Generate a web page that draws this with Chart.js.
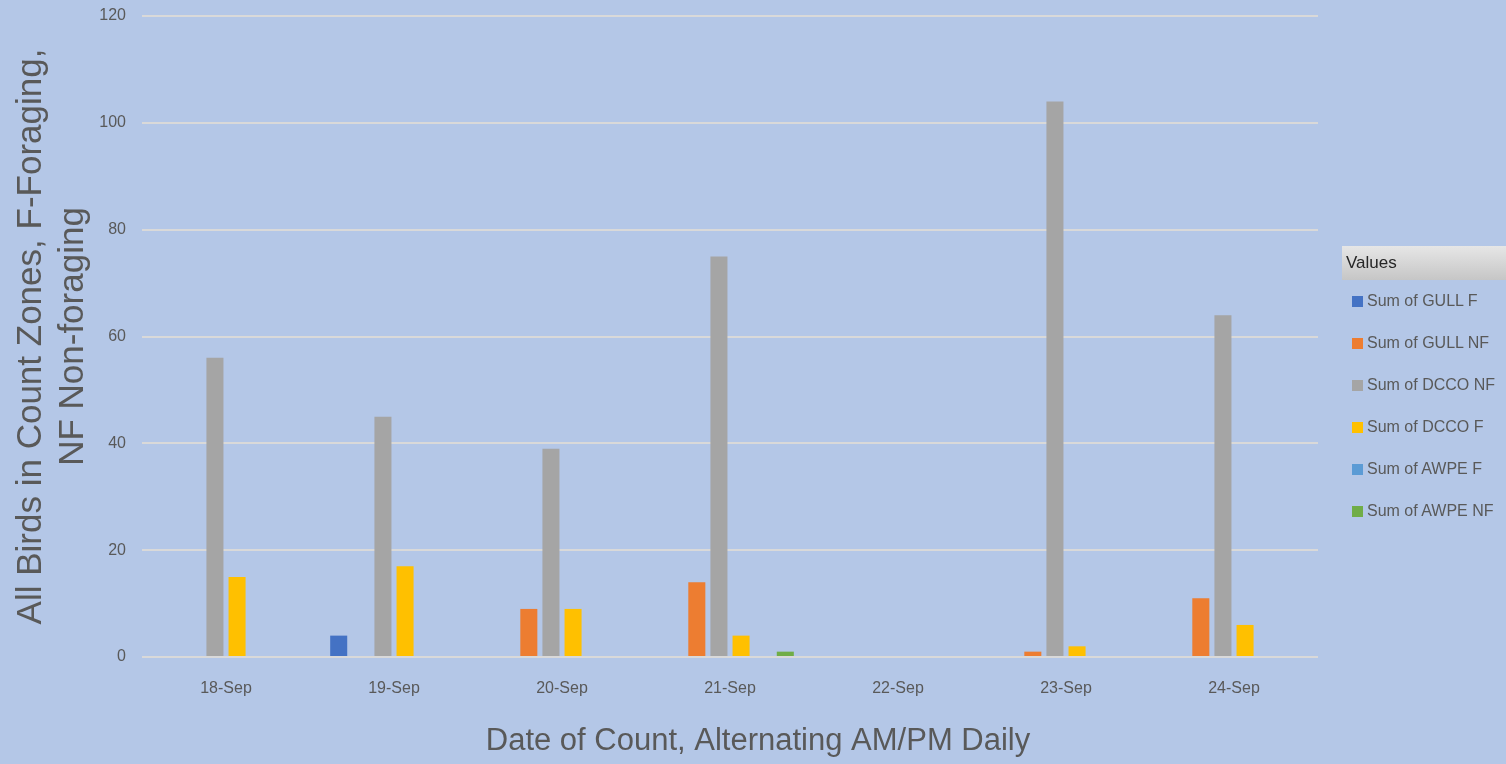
<!DOCTYPE html>
<html lang="en">
<head>
<meta charset="UTF-8" />
<title>Birds in Count Zones</title>
<script src="https://cdn.jsdelivr.net/npm/chart.js"></script>
<style>
  html, body { margin: 0; padding: 0; background: #b4c7e7; }
  #wrap { position: relative; width: 1506px; height: 764px; }
  #legend {
    position: absolute; left: 1342px; top: 246px; width: 164px;
    font-family: "Liberation Sans", Arial, sans-serif; color: #595959; font-size: 16px;
  }
  #legend .head {
    height: 34px; line-height: 34px; padding-left: 4px; color: #262626; font-size: 17px;
    background: linear-gradient(to bottom, #e6e6e6, #c6c6c6);
  }
  #legend .item { height: 42px; line-height: 42px; padding-left: 10px; white-space: nowrap; }
  #legend .sw { display: inline-block; width: 11px; height: 11px; margin-right: 4px; vertical-align: -1px; }
</style>
</head>
<body>
<div id="wrap">
  <canvas id="chart" width="1506" height="764"></canvas>
  <div id="legend"><div class="head">Values</div></div>
</div>
<script>
  // dates of count
  const categories = ["18-Sep", "19-Sep", "20-Sep", "21-Sep", "22-Sep", "23-Sep", "24-Sep"];

  // series, in legend order
  const gullF  = [0, 4, 0, 0, 0, 0, 0];
  const gullNF = [0, 0, 9, 14, 0, 1, 11];
  const dccoNF = [56, 45, 39, 75, 0, 104, 64];
  const dccoF  = [15, 17, 9, 4, 0, 2, 6];
  const awpeF  = [0, 0, 0, 0, 0, 0, 0];
  const awpeNF = [0, 0, 0, 1, 0, 0, 0];

  const seriesNames = ["Sum of GULL F", "Sum of GULL NF", "Sum of DCCO NF", "Sum of DCCO F", "Sum of AWPE F", "Sum of AWPE NF"];
  const seriesData = [gullF, gullNF, dccoNF, dccoF, awpeF, awpeNF];
  const seriesColors = ["#4472c4", "#ed7d31", "#a5a5a5", "#ffc000", "#5b9bd5", "#70ad47"];

  const xTitle = "Date of Count, Alternating AM/PM Daily";
  const yTitle = ["All Birds in Count Zones, F-Foraging,", "NF Non-foraging"];

  const font = "'Liberation Sans', Arial, sans-serif";
  const textColor = "#595959";

  const datasets = seriesNames.map((name, i) => ({
    label: name,
    data: seriesData[i],
    backgroundColor: seriesColors[i],
    categoryPercentage: 0.79,
    barPercentage: 0.77
  }));

  // axis titles drawn by hand: the x title sits right of the plot centre
  const axisTitles = {
    id: "axisTitles",
    afterDraw(chart) {
      const ctx = chart.ctx;
      const area = chart.chartArea;
      ctx.save();
      ctx.fillStyle = textColor;
      ctx.textAlign = "center";
      ctx.textBaseline = "middle";
      ctx.font = `31px ${font}`;
      ctx.fillText(xTitle, 758, 741);

      ctx.font = `35px ${font}`;
      ctx.translate(31, (area.top + area.bottom) / 2);
      ctx.rotate(-Math.PI / 2);
      ctx.fillText(yTitle[0], 0, 0);
      ctx.fillText(yTitle[1], 0, 42);
      ctx.restore();
    }
  };

  new Chart(document.getElementById("chart"), {
    type: "bar",
    data: { labels: categories, datasets: datasets },
    plugins: [axisTitles],
    options: {
      responsive: false,
      animation: false,
      layout: { padding: { top: 16, right: 188, left: 0, bottom: 0 } },
      plugins: { legend: { display: false }, tooltip: { enabled: false } },
      scales: {
        x: {
          grid: { display: false },
          border: { display: false },
          ticks: { color: textColor, font: { family: font, size: 16 }, padding: 14 },
          afterFit: s => { s.height = 107; }
        },
        y: {
          min: 0, max: 120,
          ticks: { stepSize: 20, color: textColor, font: { family: font, size: 16 }, padding: 16 },
          grid: { color: "#d9d9d9", lineWidth: 2, drawTicks: false },
          border: { display: false },
          afterFit: s => { s.width = 142; s.paddingTop = 0; s.paddingBottom = 0; }
        }
      }
    }
  });

  // legend boxes from the same series arrays
  const legend = document.getElementById("legend");
  seriesNames.forEach((name, i) => {
    const row = document.createElement("div");
    row.className = "item";
    row.innerHTML = `<span class="sw" style="background:${seriesColors[i]}"></span>${name}`;
    legend.appendChild(row);
  });
</script>
</body>
</html>
